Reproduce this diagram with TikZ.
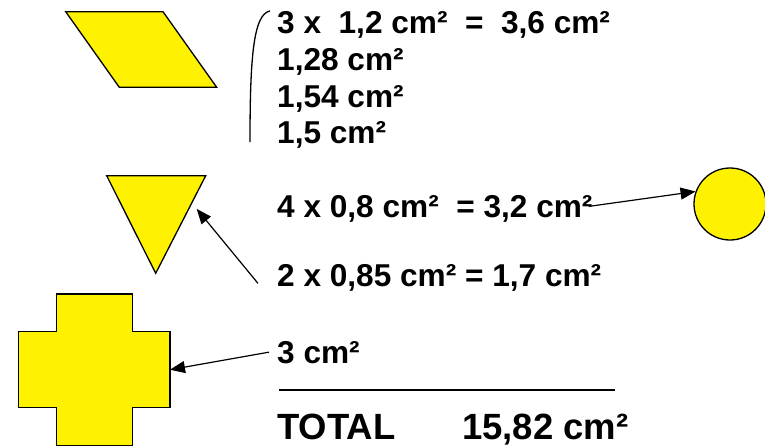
\documentclass[tikz,border=0pt]{standalone}
\usepackage{fontspec}
\newfontfamily\arialfont{Liberation Sans}
\usetikzlibrary{arrows.meta,calc}
\tikzset{
  yshape/.style={draw,line width=1.3pt,fill=yellow},
  val/.style={anchor=base west,inner sep=0pt,font=\arialfont\bfseries\fontsize{31.6}{38}\selectfont},
  bigval/.style={anchor=base west,inner sep=0pt,font=\arialfont\bfseries\fontsize{36.5}{44}\selectfont},
  arr/.style={-{Triangle[length=15pt,width=12pt]},line width=1.2pt}
}
\begin{document}
\begin{tikzpicture}[x=1pt,y=-1pt]
\useasboundingbox (0,0) rectangle (765,447);
% shapes
\draw[yshape] (65.7,11.7) -- (163,11.7) -- (216.7,87.3) -- (119.3,87.3) -- cycle;
\draw[yshape] (106.7,175.7) coordinate (trl) -- (205.7,175.7) coordinate (trr)
  -- (155.7,273.3) coordinate (trb) -- cycle;
\draw[yshape] (56.7,294) -- (132.3,294) -- (132.3,331.7) -- (170,331.7) coordinate (cra)
  -- (170,407.7) coordinate (crb) -- (132.3,407.7) -- (132.3,445.7) -- (56.7,445.7)
  -- (56.7,407.7) -- (18.3,407.7) -- (18.3,331.7) -- (56.7,331.7) -- cycle;
\node[yshape,circle,minimum size=72pt,inner sep=0pt] (circ) at (730,204) {};

% bracket
\coordinate (brtop) at (270,11);
\coordinate (brbot) at (250,142);
\draw[line width=1.3pt] (brtop) .. controls (253,14) and (250,60) .. (brbot);

% values
\node[val] (l1) at (277,33) {3 x\ \ 1,2 cm²\ \ =\ \ 3,6 cm²};
\node[val] (l2) at (277,70) {1,28 cm²};
\node[val] (l3) at (277,107) {1,54 cm²};
\node[val] (l4) at (277,143) {1,5 cm²};
\node[val] (l5) at (277,217) {4 x 0,8 cm²\ \ = 3,2 cm²};
\node[val] (l6) at (277,286) {2 x 0,85 cm² = 1,7 cm²};
\node[val] (l7) at (277,363) {3 cm²};
\node[bigval] (tot) at (277,439) {TOTAL};
\node[bigval] (sum) at (462,439) {15,82 cm²};

\coordinate (rulel) at (279,390);
\coordinate (ruler) at (615,390);
\draw[line width=1.3pt] (rulel) -- (ruler);

% arrows
\coordinate (s6) at ([xshift=-19pt,yshift=-6pt]l6.west);
\draw[arr] (s6) -- ($(trr)!0.34!(trb)+(8,0)$);
\draw[arr] ([xshift=-4pt,yshift=2pt]l5.east) -- (circ.160);
\draw[arr] ([xshift=-8pt]l7.west) -- ($(cra)!0.5!(crb)$);
\end{tikzpicture}
\end{document}
